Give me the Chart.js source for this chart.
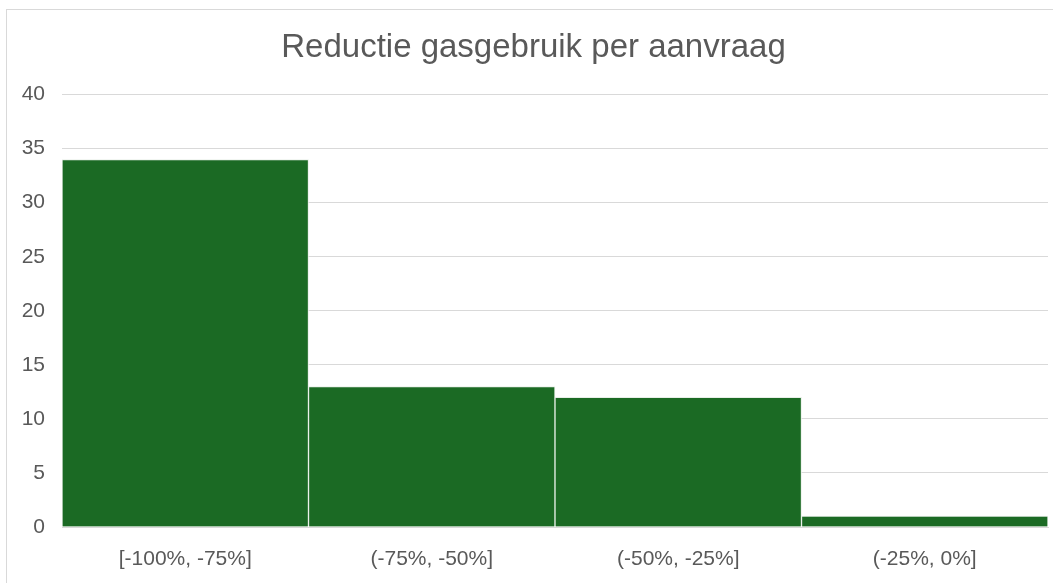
<!DOCTYPE html>
<html>
<head>
<meta charset="utf-8">
<script src="https://cdn.jsdelivr.net/npm/chart.js@4"></script>
<style>
  html, body { margin: 0; padding: 0; background: #fff; overflow: hidden; }
  #frame { position: absolute; left: 6px; top: 9px; width: 1100px; height: 700px;
           border-left: 1px solid #d9d9d9; border-top: 1px solid #d9d9d9; }
  #wrap { position: absolute; left: 0; top: 0; width: 1053px; height: 583px; }
</style>
</head>
<body>
<div id="frame"></div>
<div id="wrap"><canvas id="chart"></canvas></div>
<script>
const categories = ["[-100%, -75%]", "(-75%, -50%]", "(-50%, -25%]", "(-25%, 0%]"];
const counts = [34, 13, 12, 1];
const titleText = "Reductie gasgebruik per aanvraag";

const textColor = "#595959";
const gridColor = "#d9d9d9";
const barColor = "#1b6a24";
const fontFamily = "'Liberation Sans', Arial, sans-serif";

const ctx = document.getElementById("chart").getContext("2d");

new Chart(ctx, {
  type: "bar",
  data: {
    labels: categories,
    datasets: [{
      data: counts,
      backgroundColor: barColor,
      borderColor: "#e8efe8",
      borderWidth: 1,
      categoryPercentage: 1.0,
      barPercentage: 1.0
    }]
  },
  options: {
    responsive: true,
    maintainAspectRatio: false,
    animation: false,
    // left padding nudges the title centre right; y scale keeps plot at x=62
    layout: { padding: { left: 19, right: 5, top: 0, bottom: 0 } },
    plugins: {
      legend: { display: false },
      tooltip: { enabled: false },
      title: {
        display: true,
        text: titleText,
        color: textColor,
        font: { family: fontFamily, size: 33, weight: "normal" },
        padding: { top: 28, bottom: 27 }
      }
    },
    scales: {
      x: {
        grid: { display: false, drawTicks: false },
        border: { display: true, color: gridColor, width: 1 },
        ticks: {
          color: textColor,
          padding: 20,
          font: { family: fontFamily, size: 21 }
        },
        afterFit: function (scale) { scale.height = 56; }
      },
      y: {
        min: 0,
        max: 40,
        grid: { color: gridColor, drawTicks: false },
        border: { display: false },
        ticks: {
          stepSize: 5,
          color: textColor,
          padding: 17,
          font: { family: fontFamily, size: 21 }
        },
        afterFit: function (scale) { scale.width = 43; }
      }
    }
  }
});
</script>
</body>
</html>
